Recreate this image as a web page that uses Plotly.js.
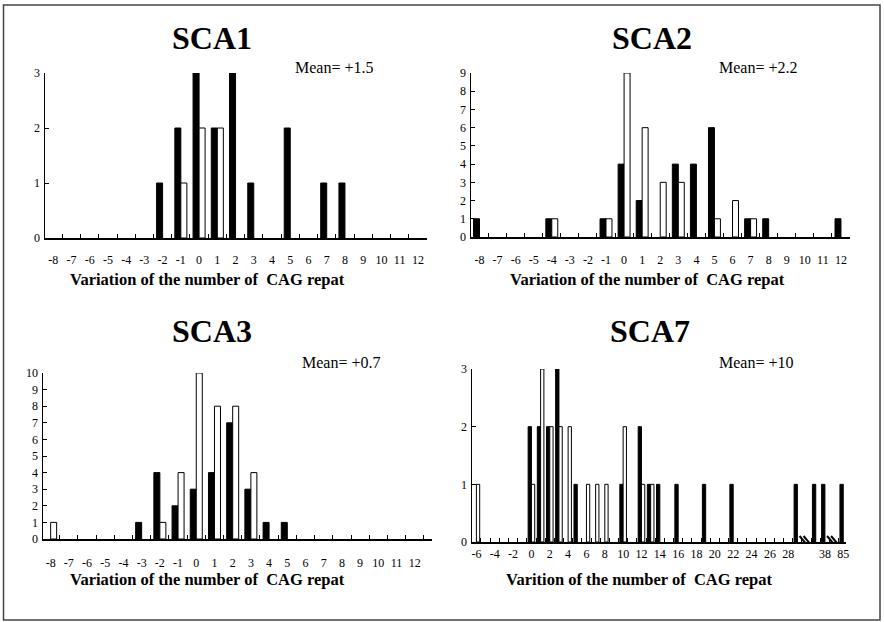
<!DOCTYPE html>
<html>
<head>
<meta charset="utf-8">
<script src="https://cdn.plot.ly/plotly-3.0.1.min.js"></script>
<style>
  html, body { margin: 0; padding: 0; background: #fff; }
  #chart { width: 884px; height: 622px; }
</style>
</head>
<body>
<div id="chart"></div>
<script>
// ---------------- DATA ----------------
const catsA = ['-8','-7','-6','-5','-4','-3','-2','-1','0','1','2','3','4','5','6','7','8','9','10','11','12'];

const sca1BlackX = ['-2','-1','0','1','2','3','5','7','8'];
const sca1BlackY = [1, 2, 3, 2, 3, 1, 2, 1, 1];
const sca1WhiteX = ['-1','0','1'];
const sca1WhiteY = [1, 2, 2];

const sca2BlackX = ['-8','-4','-1','0','1','3','4','5','7','8','12'];
const sca2BlackY = [1, 1, 1, 4, 2, 4, 4, 6, 1, 1, 1];
const sca2WhiteX = ['-4','-1','0','1','2','3','5','6','7'];
const sca2WhiteY = [1, 1, 9, 6, 3, 3, 1, 2, 1];

const sca3BlackX = ['-3','-2','-1','0','1','2','3','4','5'];
const sca3BlackY = [1, 4, 2, 3, 4, 7, 3, 1, 1];
const sca3WhiteX = ['-8','-2','-1','0','1','2','3'];
const sca3WhiteY = [1, 1, 4, 10, 8, 8, 4];

const sca7Cats = ['-6','-5','-4','-3','-2','-1','0','1','2','3','4','5','6','7','8','9','10','11','12','13',
                  '14','15','16','17','18','19','20','21','22','23','24','25','26','27','28','29',
                  'b1','34','38','b2','85'];
const sca7TickText = ['-6','','-4','','-2','','0','','2','','4','','6','','8','','10','','12','',
                      '14','','16','','18','','20','','22','','24','','26','','28','',
                      '','','38','','85'];
const sca7BlackX = ['0','1','2','3','5','10','12','13','14','16','19','22','29','34','38','85'];
const sca7BlackY = [2, 2, 2, 3, 1, 1, 2, 1, 1, 1, 1, 1, 1, 1, 1, 1];
const sca7WhiteX = ['-6','0','1','2','3','4','6','7','8','10','12','13'];
const sca7WhiteY = [1, 1, 3, 2, 2, 2, 1, 1, 1, 2, 1, 1];

const panelTitles = ['SCA1', 'SCA2', 'SCA3', 'SCA7'];
const meanTexts = ['Mean= +1.5', 'Mean= +2.2', 'Mean= +0.7', 'Mean= +10'];
const xTitles = ['Variation of the number of  CAG repat', 'Variation of the number of  CAG repat',
                 'Variation of the number of  CAG repat', 'Varition of the number of  CAG repat'];

// ---------------- LAYOUT HELPERS ----------------
const W = 884, H = 622;
const FONT = 'Liberation Serif, Times New Roman, serif';
const px = v => v / W;
const py = v => 1 - v / H;

// plot boxes in pixels [left, right, top, bottom]
const boxes = [
  [45, 427, 73, 238],
  [471, 850, 73, 237],
  [43, 432, 373, 539],
  [472, 846, 369, 542]
];
const yMax = [3, 9, 10, 3];
const xRanges = [[-0.45, 20.5], [-0.47, 20.5], [-0.42, 20.95], [-0.48, 40.3]];
const standoffs = [10, 11, 12, 0];

function bars(x, y, filled, k, w) {
  return {
    type: 'bar', x: x, y: y,
    xaxis: k === 1 ? 'x' : 'x' + k, yaxis: k === 1 ? 'y' : 'y' + k,
    width: w, offset: filled ? -w : 0,
    marker: { color: filled ? '#000' : '#fff', line: { color: '#000', width: 1 } },
    hoverinfo: 'x+y', showlegend: false
  };
}

const traces = [
  bars(sca1BlackX, sca1BlackY, true, 1, 0.33),
  bars(sca1WhiteX, sca1WhiteY, false, 1, 0.33),
  bars(sca2BlackX, sca2BlackY, true, 2, 0.33),
  bars(sca2WhiteX, sca2WhiteY, false, 2, 0.33),
  bars(sca3BlackX, sca3BlackY, true, 3, 0.33),
  bars(sca3WhiteX, sca3WhiteY, false, 3, 0.33),
  bars(sca7BlackX, sca7BlackY, true, 4, 0.36),
  bars(sca7WhiteX, sca7WhiteY, false, 4, 0.36)
];

const layout = {
  width: W, height: H,
  margin: { l: 0, r: 0, t: 0, b: 0 },
  paper_bgcolor: '#fff', plot_bgcolor: '#fff',
  barmode: 'overlay',
  font: { family: FONT, color: '#000' },
  annotations: [], shapes: []
};

for (let i = 0; i < 4; i++) {
  const k = i + 1;
  const b = boxes[i];
  const xa = k === 1 ? 'xaxis' : 'xaxis' + k;
  const ya = k === 1 ? 'yaxis' : 'yaxis' + k;
  const cats = i === 3 ? sca7Cats : catsA;
  const ttext = i === 3 ? sca7TickText : catsA;
  layout[xa] = {
    domain: [px(b[0]), px(b[1])],
    anchor: k === 1 ? 'y' : 'y' + k,
    type: 'category', categoryorder: 'array', categoryarray: cats,
    range: xRanges[i],
    tickmode: 'array', tickvals: cats, ticktext: ttext, tickangle: 0,
    tickson: 'boundaries', ticks: 'inside', ticklen: 4, tickwidth: 1, tickcolor: '#000',
    showline: true, linecolor: '#000', linewidth: 1.5,
    showgrid: false, zeroline: false,
    tickfont: { family: FONT, size: 12, color: '#000' },
    ticklabelstandoff: standoffs[i],
    fixedrange: true
  };
  layout[ya] = {
    domain: [py(b[3]), py(b[2])],
    anchor: k === 1 ? 'x' : 'x' + k,
    range: [0, yMax[i]], dtick: 1, tick0: 0,
    ticks: 'inside', ticklen: 4, tickwidth: 1, tickcolor: '#000',
    showline: true, linecolor: '#000', linewidth: 1.5,
    showgrid: false, zeroline: false,
    tickfont: { family: FONT, size: 12, color: '#000' },
    ticklabelstandoff: 1,
    fixedrange: true
  };
}

const titlePos = [[212, 38], [652, 38], [212, 331], [650, 331]];
const meanPos = [[334, 67], [758, 67], [341, 362], [756, 362]];
const xTitlePos = [[207, 279], [647, 279], [207, 579], [639, 579]];

for (let i = 0; i < 4; i++) {
  layout.annotations.push({
    xref: 'paper', yref: 'paper', x: px(titlePos[i][0]), y: py(titlePos[i][1]),
    text: panelTitles[i], showarrow: false, xanchor: 'center', yanchor: 'middle',
    font: { family: FONT, size: 32, weight: 700, color: '#000' }
  });
  layout.annotations.push({
    xref: 'paper', yref: 'paper', x: px(meanPos[i][0]), y: py(meanPos[i][1]),
    text: meanTexts[i], showarrow: false, xanchor: 'center', yanchor: 'middle',
    font: { family: FONT, size: 16, color: '#000' }
  });
  layout.annotations.push({
    xref: 'paper', yref: 'paper', x: px(xTitlePos[i][0]), y: py(xTitlePos[i][1]),
    text: xTitles[i], showarrow: false, xanchor: 'center', yanchor: 'middle',
    font: { family: FONT, size: 16.5, weight: 700, color: '#000' }
  });
}

// axis break marks on SCA7
['b1', 'b2'].forEach(c => {
  [-2, 2].forEach(dx => {
    layout.shapes.push({
      type: 'line', xref: 'x4', yref: 'y4',
      xsizemode: 'pixel', xanchor: c, ysizemode: 'pixel', yanchor: 0,
      x0: dx - 5, x1: dx + 5, y0: 6, y1: -6,
      line: { color: '#000', width: 2 }
    });
  });
});

// outer frame
layout.shapes.push({
  type: 'rect', xref: 'paper', yref: 'paper',
  x0: px(3.5), x1: px(880), y0: py(620), y1: py(5),
  line: { color: '#444', width: 1.5 }, fillcolor: 'rgba(0,0,0,0)'
});

Plotly.newPlot('chart', traces, layout, { displayModeBar: false, staticPlot: true });
</script>
</body>
</html>
